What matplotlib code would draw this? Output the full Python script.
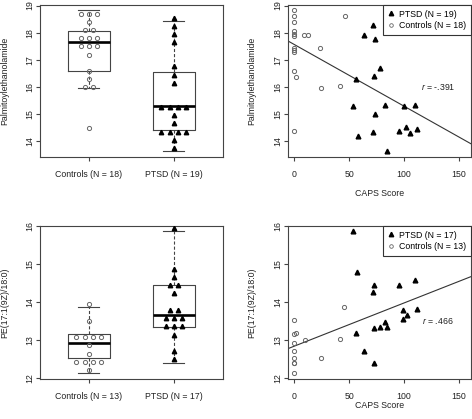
import numpy as np
import matplotlib
matplotlib.use("Agg")
import matplotlib.pyplot as plt
from matplotlib.lines import Line2D

plt.rcParams['font.family'] = ['Liberation Sans', 'DejaVu Sans']
plt.rcParams['font.size'] = 6.3
plt.rcParams['mathtext.fontset'] = 'custom'
plt.rcParams['mathtext.it'] = 'Liberation Sans:italic'
plt.rcParams['mathtext.rm'] = 'Liberation Sans'

# palmitoylethanolamide panel data (CAPS score, level)
caps_ctrl_pea = [0, 0, 0, 0, 0, 0, 0, 0, 0, 0, 0, 2, 9, 12.5, 23, 24.5, 42, 46]
pea_ctrl = [18.82, 18.60, 18.39, 18.05, 17.96, 17.88, 17.44, 17.35, 17.27, 16.59, 14.37,
            16.38, 17.93, 17.93, 17.45, 15.95, 16.04, 18.60]
caps_ptsd_pea = [72.1, 63.4, 73.6, 78.6, 56.6, 72.5, 53.6, 83.0, 99.7, 109.8, 73.4, 57.8,
                 71.4, 95.9, 101.8, 105.4, 111.6, 84.6, 88]
pea_ptsd = [18.29, 17.93, 17.77, 16.71, 16.29, 16.40, 15.30, 15.34, 15.28, 15.34, 14.98, 14.18,
            14.35, 14.36, 14.51, 14.28, 14.46, 13.63, 18.43]

# PE(17:1(9Z)/18:0) panel data
caps_ctrl_pe = [0, 0, 0, 0, 0, 0, 0, 0, 1.5, 9.5, 24.1, 41.7, 45.6]
pe_ctrl = [13.53, 13.15, 12.93, 12.71, 12.52, 12.39, 12.39, 12.13, 13.18, 13.00, 12.53, 13.02, 13.86]
caps_ptsd_pe = [53.6, 57.5, 73, 71.4, 56.3, 72.3, 63.4, 72.3, 95.9, 109.8, 111.6, 98.8, 102.4,
                99.5, 78.6, 83, 84.6]
pe_ptsd = [15.86, 14.80, 14.46, 14.27, 13.20, 13.31, 12.71, 12.41, 14.46, 14.57, 13.83, 13.79,
           13.66, 13.55, 13.35, 13.48, 13.34]

r_text = ['-.391', '.466']
ylabels = ['Palmitoylethanolamide', 'PE(17:1(9Z)/18:0)']

W, H = 472, 419
fig = plt.figure(figsize=(W / 100, H / 100), dpi=100)

def add_ax(l, r, t, b):
    return fig.add_axes([l / W, 1 - b / H, (r - l) / W, (b - t) / H])

LC = '#444444'
GRAY = '#666666'

def style(ax):
    for s in ax.spines.values():
        s.set_color(LC)
        s.set_linewidth(0.8)
    ax.tick_params(direction='out', length=2.9, width=0.8, color=LC, labelcolor='#222222')
    ax.tick_params(axis='x', pad=6.5)
    ax.tick_params(axis='y', pad=1.0)
    for lab in ax.get_yticklabels():
        lab.set_rotation(90)
        lab.set_va('center')

def fivenum(x):
    x = np.sort(np.asarray(x, float))
    n = len(x)
    n4 = np.floor((n + 3) / 2) / 2
    d = np.array([1, n4, (n + 1) / 2, n + 1 - n4, n]) - 1
    return 0.5 * (x[np.floor(d).astype(int)] + x[np.ceil(d).astype(int)])

def swarm(vals, pos, step, dx=0.098):
    v = np.asarray(vals, float)
    base = v.min() + 0.4 * step
    k = np.round((v - base) / step)
    xs, ys = [], []
    for kk in np.unique(k):
        n = int(np.sum(k == kk))
        for i in range(n):
            xs.append(pos + (i - (n - 1) / 2) * dx)
            ys.append(base + kk * step)
    return xs, ys

def boxpanel(ax, ctrl, ptsd, ylim, step, yticks):
    stats = []
    for v in (ctrl, ptsd):
        q = fivenum(v)
        iqr = q[3] - q[1]
        arr = np.asarray(v)
        lo = arr[arr >= q[1] - 1.5 * iqr].min()
        hi = arr[arr <= q[3] + 1.5 * iqr].max()
        stats.append(dict(med=q[2], q1=q[1], q3=q[3], whislo=lo, whishi=hi, fliers=[]))
    ax.bxp(stats, positions=[1, 2], widths=0.5, capwidths=0.25, showfliers=False,
           boxprops=dict(color=LC, lw=0.8),
           whiskerprops=dict(color=LC, lw=0.8, linestyle=(0, (2.8, 1.8))),
           capprops=dict(color=LC, lw=0.8),
           medianprops=dict(color='black', lw=1.9))
    xs, ys = swarm(ctrl, 1, step)
    ax.plot(xs, ys, 'o', ms=3.0, mfc='none', mec=GRAY, mew=0.7, zorder=5)
    xs, ys = swarm(ptsd, 2, step)
    ax.plot(xs, ys, '^', ms=3.2, color='black', zorder=5)
    ax.set_xlim(0.425, 2.575)
    ax.set_ylim(*ylim)
    ax.set_xticks([1, 2])
    ax.set_xticklabels(['Controls (N = %d)' % len(ctrl), 'PTSD (N = %d)' % len(ptsd)])
    ax.set_yticks(yticks)
    style(ax)

def scatpanel(ax, cx, cy, px, py, ylim, yticks, rtxt, ry):
    allx = np.concatenate([cx, px])
    ally = np.concatenate([cy, py])
    m, b = np.polyfit(allx, ally, 1)
    ax.axline((0, b), slope=m, color='#333333', lw=0.8)
    ax.plot(px, py, '^', ms=3.4, color='black', zorder=3)
    ax.plot(cx, cy, 'o', ms=3.0, mfc='none', mec=GRAY, mew=0.7, zorder=3)
    ax.set_xlim(-6.2, 161.2)
    ax.set_ylim(*ylim)
    ax.set_xticks([0, 50, 100, 150])
    ax.set_yticks(yticks)
    ax.text(131, ry, '$r$ = ' + rtxt, ha='center', va='center', color='#222222')
    h = [Line2D([], [], ls='none', marker='^', ms=3.2, color='black'),
         Line2D([], [], ls='none', marker='o', ms=2.6, mfc='none', mec=GRAY, mew=0.6)]
    leg = ax.legend(h, ['PTSD (N = %d)' % len(px), 'Controls (N = %d)' % len(cx)],
                    loc='upper right', borderaxespad=0, fancybox=False, framealpha=1,
                    edgecolor='#333333', borderpad=0.55, labelspacing=0.25,
                    handlelength=0.8, handletextpad=0.5)
    leg.get_frame().set_linewidth(0.8)
    leg.set_zorder(10)
    style(ax)

ylim_pea = (13.42, 19.03)
ylim_pe = (11.98, 16.01)

ax1 = add_ax(40, 222.7, 4.7, 156.7)
boxpanel(ax1, pea_ctrl, pea_ptsd, ylim_pea, 0.30, [14, 15, 16, 17, 18, 19])
ax2 = add_ax(287.5, 471, 4.7, 156.7)
scatpanel(ax2, caps_ctrl_pea, pea_ctrl, caps_ptsd_pea, pea_ptsd, ylim_pea,
          [14, 15, 16, 17, 18, 19], r_text[0], 16.0)
ax3 = add_ax(40, 222.7, 225.7, 379)
boxpanel(ax3, pe_ctrl, pe_ptsd, ylim_pe, 0.2165, [12, 13, 14, 15, 16])
ax4 = add_ax(287.5, 471, 225.7, 379)
scatpanel(ax4, caps_ctrl_pe, pe_ctrl, caps_ptsd_pe, pe_ptsd, ylim_pe,
          [12, 13, 14, 15, 16], r_text[1], 13.5)

# axis titles placed like R's mtext
for x, y in [(4.5, 80.7), (252, 80.7)]:
    fig.text(x / W, 1 - y / H, ylabels[0], rotation=90, ha='center', va='center', color='#222222')
for x, y in [(4.5, 302.3), (252, 302.3)]:
    fig.text(x / W, 1 - y / H, ylabels[1], rotation=90, ha='center', va='center', color='#222222')
for y in (193, 405):
    fig.text(379.3 / W, 1 - y / H, 'CAPS Score', ha='center', va='center', color='#222222')

fig.savefig('out.png', dpi=100)
